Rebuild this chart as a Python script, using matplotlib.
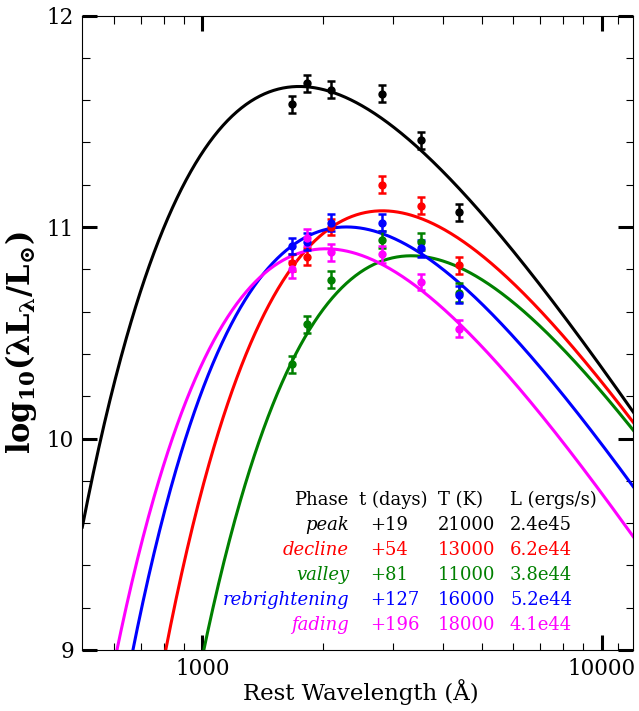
import numpy as np
import matplotlib
matplotlib.use("Agg")
import matplotlib.pyplot as plt
from matplotlib.ticker import FixedLocator, MultipleLocator, FuncFormatter, NullFormatter

# ---------------- data ----------------
wavelength = [1675, 1828, 2100, 2815, 3530, 4400]  # rest wavelength (Angstrom)

phases = ["peak", "decline", "valley", "rebrightening", "fading"]
t_days = ["+19", "+54", "+81", "+127", "+196"]
temp_K = [21000, 13000, 11000, 16000, 18000]
lum_str = ["2.4e45", "6.2e44", "3.8e44", "5.2e44", "4.1e44"]
lum_cgs = [2.4e45, 6.2e44, 3.8e44, 5.2e44, 4.1e44]
colors = ["black", "#ff0000", "#008000", "#0000ff", "#ff00ff"]

peak_vals = [11.58, 11.68, 11.65, 11.63, 11.41, 11.07]
decline_vals = [10.83, 10.86, 11.00, 11.20, 11.10, 10.82]
valley_vals = [10.35, 10.54, 10.75, 10.94, 10.93, 10.69]
rebright_vals = [10.91, 10.93, 11.02, 11.02, 10.90, 10.68]
fading_vals = [10.80, 10.95, 10.88, 10.87, 10.74, 10.52]
phase_vals = [peak_vals, decline_vals, valley_vals, rebright_vals, fading_vals]

peak_err = [0.04, 0.04, 0.04, 0.04, 0.04, 0.04]
decline_err = [0.04, 0.04, 0.04, 0.04, 0.04, 0.04]
valley_err = [0.04, 0.04, 0.04, 0.04, 0.04, 0.045]
rebright_err = [0.04, 0.04, 0.04, 0.04, 0.04, 0.04]
fading_err = [0.04, 0.04, 0.04, 0.04, 0.04, 0.04]
phase_err = [peak_err, decline_err, valley_err, rebright_err, fading_err]

LSUN = 3.826e33
HC_K = 1.4388e8  # Angstrom * K


def blackbody_log(lam, T, L):
    x = HC_K / (lam * T)
    return np.log10(L / LSUN * 15.0 / np.pi**4 * x**4 / np.expm1(x))


# ---------------- figure ----------------
plt.rcParams["font.family"] = ["DejaVu Serif"]
plt.rcParams["mathtext.fontset"] = "custom"
plt.rcParams["mathtext.rm"] = "DejaVu Serif:bold"
plt.rcParams["mathtext.it"] = "DejaVu Serif:italic:bold"
plt.rcParams["mathtext.bf"] = "DejaVu Serif:bold"

fig = plt.figure(figsize=(6.39, 7.11), dpi=100)
ax = fig.add_axes([82.3 / 639, 1 - 650 / 711, 551 / 639, 634.5 / 711])

lam_grid = np.logspace(np.log10(500), np.log10(12000), 600)
for T, L, c in zip(temp_K, lum_cgs, colors):
    ax.plot(lam_grid, blackbody_log(lam_grid, T, L), color=c, lw=2.2, zorder=2)

for vals, err, c in zip(phase_vals, phase_err, colors):
    ax.errorbar(wavelength, vals, yerr=err, fmt="o", color=c, ms=5,
                elinewidth=1.8, capsize=3, capthick=1.8, zorder=3)

ax.set_xscale("log")
ax.set_xlim(500, 12000)
ax.set_ylim(9, 12)

ax.xaxis.set_major_locator(FixedLocator([1000, 10000]))
ax.xaxis.set_minor_locator(FixedLocator([600, 700, 800, 900, 2000, 3000, 4000, 5000,
                                         6000, 7000, 8000, 9000, 11000]))
ax.xaxis.set_major_formatter(FuncFormatter(lambda v, p: "%d" % v))
ax.xaxis.set_minor_formatter(NullFormatter())
ax.yaxis.set_major_locator(FixedLocator([9, 10, 11, 12]))
ax.yaxis.set_minor_locator(MultipleLocator(0.2))
ax.yaxis.set_major_formatter(FuncFormatter(lambda v, p: "%d" % v))

ax.tick_params(which="major", direction="in", length=10.8, width=2.2,
               top=True, right=True, labelsize=15.5, pad=6)
ax.tick_params(which="minor", direction="in", length=5.4, width=0.8,
               top=True, right=True)
for s in ax.spines.values():
    s.set_linewidth(0.8)

ax.set_xlabel("Rest Wavelength (Å)", fontsize=16.5)
ax.xaxis.set_label_coords(0.505, -0.046)
ax.set_ylabel(r"$\mathrm{log_{10}(\lambda L_{\lambda}/L_{\odot})}$", fontsize=22)
ax.yaxis.set_label_coords(-0.078, 0.485)

# ---------------- table ----------------
def ax_x(px):
    return (px - 82.3) / 551.0


def ax_y(py):
    return (650.0 - py) / 634.5


hdr_y = ax_y(505)
fs = 13
ax.text(ax_x(348.5), hdr_y, "Phase", ha="right", va="baseline", fontsize=fs, transform=ax.transAxes)
ax.text(ax_x(359), hdr_y, "t (days)", ha="left", va="baseline", fontsize=fs, transform=ax.transAxes)
ax.text(ax_x(438), hdr_y, "T (K)", ha="left", va="baseline", fontsize=fs, transform=ax.transAxes)
ax.text(ax_x(510), hdr_y, "L (ergs/s)", ha="left", va="baseline", fontsize=fs, transform=ax.transAxes)

row_base = [530, 555, 580, 605, 630]
for name, td, T, ls, c, yb in zip(phases, t_days, temp_K, lum_str, colors, row_base):
    y = ax_y(yb)
    ax.text(ax_x(349), y, name, ha="right", va="baseline", fontsize=fs, style="italic",
            color=c, transform=ax.transAxes)
    ax.text(ax_x(370), y, td, ha="left", va="baseline", fontsize=fs, color=c, transform=ax.transAxes)
    ax.text(ax_x(438), y, str(T), ha="left", va="baseline", fontsize=fs, color=c, transform=ax.transAxes)
    ax.text(ax_x(510), y, ls, ha="left", va="baseline", fontsize=fs, color=c, transform=ax.transAxes)

fig.savefig("out.png", dpi=100)
